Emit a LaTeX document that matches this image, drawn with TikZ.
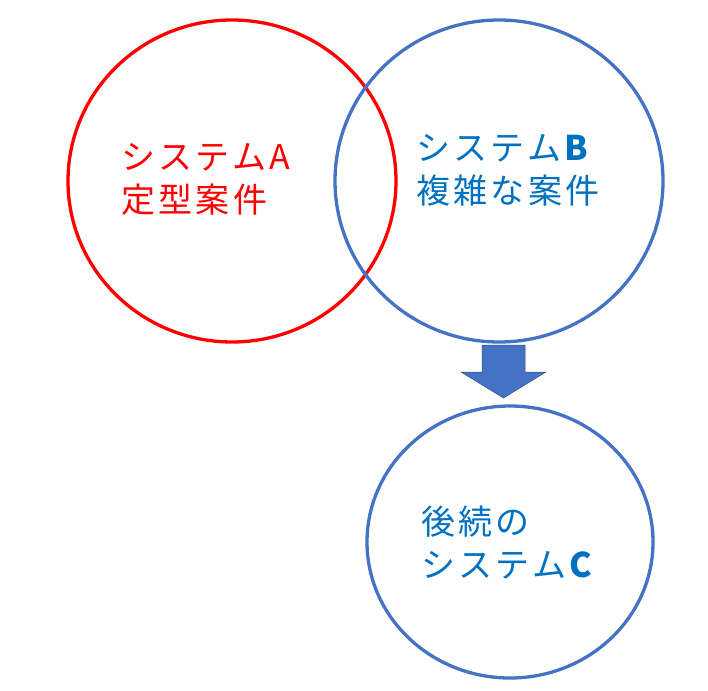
\documentclass[tikz,border=0pt]{standalone}
\usepackage{fontspec}
\setmainfont{Noto Sans CJK JP}[LetterSpace=10]
\begin{document}
\begin{tikzpicture}[x=1pt,y=-1pt,
  ring/.style={line width=3.3pt},
  lbl/.style={anchor=west,align=left,font=\fontsize{34}{43}\selectfont,inner sep=0pt}]
\definecolor{cblue}{HTML}{4472C4}
\definecolor{tblue}{HTML}{0070C0}
\useasboundingbox (0,0) rectangle (708,690);
\draw[ring,red] (232,181) ellipse [x radius=164,y radius=161];
\draw[ring,cblue] (499,181) ellipse [x radius=164,y radius=161];
\draw[ring,cblue] (510,542) ellipse [x radius=143,y radius=136];
\node[lbl,red] (ta) at (121,179) {システムA\\定型案件};
\node[lbl,tblue] (tb) at (416,170) {システム\textbf{B}\\複雑な案件};
\node[lbl,tblue] (tc) at (421,543) {後続の\\システム\textbf{C}};
\fill[cblue,draw=cblue!70!black,line width=0.5pt] (482,345) -- (525,345) -- (525,372) -- (546,372) -- (503.5,398) -- (461,372) -- (482,372) -- cycle;
\end{tikzpicture}
\end{document}
